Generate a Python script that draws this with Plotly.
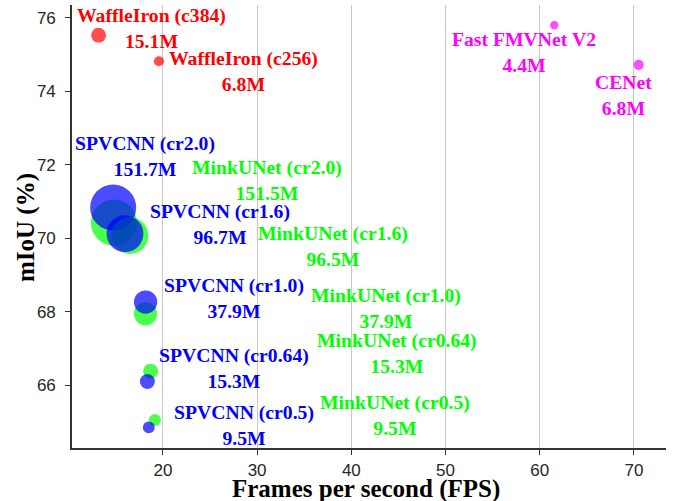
import plotly.graph_objects as go
import math

# ---- data ----
names = ["WaffleIron (c384)", "WaffleIron (c256)", "Fast FMVNet V2", "CENet",
         "MinkUNet (cr2.0)", "SPVCNN (cr2.0)", "MinkUNet (cr1.6)", "SPVCNN (cr1.6)",
         "MinkUNet (cr1.0)", "SPVCNN (cr1.0)", "MinkUNet (cr0.64)", "SPVCNN (cr0.64)",
         "MinkUNet (cr0.5)", "SPVCNN (cr0.5)"]
fps = [13.17, 19.58, 61.54, 70.5,
       14.80, 14.72, 16.5, 15.97,
       18.16, 18.16, 18.7, 18.35,
       19.15, 18.5]
miou = [75.53, 74.82, 75.80, 74.72,
        70.43, 70.84, 70.08, 70.13,
        67.95, 68.27, 66.39, 66.11,
        65.06, 64.86]
params = [15.1, 6.8, 4.4, 6.8,
          151.5, 151.7, 96.5, 96.7,
          37.9, 37.9, 15.3, 15.3,
          9.5, 9.5]
groups = ["waffle", "waffle", "other", "other",
          "mink", "spv", "mink", "spv",
          "mink", "spv", "mink", "spv",
          "mink", "spv"]

x_ticks = [20, 30, 40, 50, 60, 70]
y_ticks = [66, 68, 70, 72, 74, 76]
x_title = "Frames per second (FPS)"
y_title = "mIoU (%)"

# ---- styling ----
colors = {"waffle": "#ff0000", "other": "#ff00ff", "mink": "#00ff00", "spv": "#0000ff"}
# label offsets (pixels) relative to each point
shifts = [(53, 7), (85, -10), (-30, -27), (-15, -30),
          (153, 43), (32, 52), (203, -10), (95, 10),
          (240, 6), (88, 4), (246, 18), (87, 13),
          (240, 5), (95, 2)]
SERIF = "Liberation Serif, Times New Roman, serif"

fig = go.Figure()
for i in range(len(names)):
    fig.add_trace(go.Scatter(
        x=[fps[i]], y=[miou[i]], mode="markers",
        marker=dict(size=3.7 * math.sqrt(params[i]) + 0.5,
                    color=colors[groups[i]], opacity=0.7, line=dict(width=0)),
        hoverinfo="skip", showlegend=False))
    fig.add_annotation(
        x=fps[i], y=miou[i], text=f"<b>{names[i]}</b><br><b>{params[i]}M</b>",
        showarrow=False, xanchor="center", yanchor="middle",
        xshift=shifts[i][0], yshift=shifts[i][1],
        font=dict(family=SERIF, size=19.7, color=colors[groups[i]]))

# axis titles
fig.add_annotation(xref="paper", yref="paper", x=0.495, y=-0.092,
                   text=f"<b>{x_title}</b>", showarrow=False,
                   xanchor="center", yanchor="middle",
                   font=dict(family=SERIF, size=25, color="black"))
fig.add_annotation(xref="paper", yref="paper", x=-0.0774, y=0.4966,
                   text=f"<b>{y_title}</b>", showarrow=False, textangle=-90,
                   xanchor="center", yanchor="middle",
                   font=dict(family=SERIF, size=25, color="black"))

axis_common = dict(showline=True, linecolor="#333333", linewidth=1.6,
                   ticks="outside", ticklen=5, tickwidth=1.2, tickcolor="#333333",
                   tickfont=dict(family="Liberation Sans", size=17, color="#262626"),
                   zeroline=False, mirror=False, automargin=False)

fig.update_xaxes(range=[10.35, 73.4], tickvals=x_ticks, showgrid=True,
                 gridcolor="#c8c8c8", gridwidth=1.2, ticklabelstandoff=1,
                 **axis_common)
fig.update_yaxes(range=[64.3, 76.35], tickvals=y_ticks, showgrid=False,
                 ticklabelstandoff=6,
                 **axis_common)

fig.update_layout(width=678, height=501, margin=dict(l=72, r=12, t=5, b=53),
                  plot_bgcolor="white", paper_bgcolor="white")
fig.write_html("out.html", config={"displayModeBar": False},
               post_script="document.body.style.margin='0';document.body.style.overflow='hidden';")
